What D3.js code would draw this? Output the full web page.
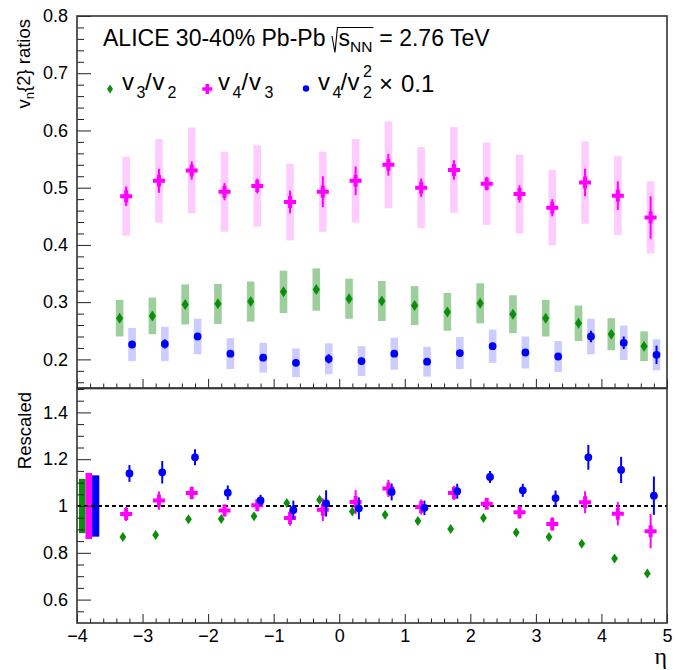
<!DOCTYPE html>
<html><head><meta charset="utf-8">
<script src="https://cdn.jsdelivr.net/npm/d3@7"></script>
<style>body{margin:0;background:#fff} text{font-family:"Liberation Sans",Arial,Helvetica,sans-serif;fill:#000}</style>
</head><body><svg id="c" width="678" height="670"></svg>
<script>
// ---- data ----
const eta = [-3.25,-2.75,-2.25,-1.75,-1.25,-0.75,-0.25,0.25,0.75,1.25,1.75,2.25,2.75,3.25,3.75,4.25,4.75];
// top panel: v3/v2
const v32     = [0.272,0.276,0.296,0.297,0.301,0.318,0.322,0.306,0.302,0.294,0.283,0.298,0.279,0.272,0.263,0.244,0.223];
const v32Stat = [0.003,0.003,0.003,0.003,0.003,0.003,0.003,0.003,0.003,0.003,0.003,0.003,0.003,0.003,0.003,0.003,0.004];
const v32Sys  = [0.032,0.032,0.035,0.035,0.035,0.037,0.037,0.035,0.035,0.034,0.033,0.035,0.033,0.032,0.031,0.028,0.026];
// top panel: v4/v3
const v43     = [0.485,0.512,0.530,0.493,0.503,0.475,0.493,0.512,0.540,0.500,0.531,0.507,0.489,0.465,0.509,0.486,0.448];
const v43Stat = [0.017,0.021,0.016,0.015,0.013,0.020,0.027,0.025,0.019,0.016,0.017,0.012,0.015,0.015,0.024,0.025,0.037];
const v43Sys  = [0.069,0.073,0.075,0.070,0.071,0.067,0.070,0.073,0.076,0.071,0.075,0.072,0.069,0.066,0.072,0.069,0.063];
// top panel: v4/v2^2 x 0.1
const v422     = [0.226,0.227,0.240,0.210,0.203,0.194,0.201,0.197,0.210,0.196,0.211,0.223,0.212,0.205,0.240,0.229,0.208];
const v422Stat = [0.005,0.008,0.006,0.005,0.005,0.006,0.008,0.006,0.005,0.005,0.005,0.006,0.005,0.006,0.010,0.011,0.016];
const v422Sys  = [0.029,0.030,0.031,0.027,0.026,0.025,0.027,0.026,0.028,0.026,0.028,0.029,0.028,0.027,0.031,0.030,0.027];
// bottom panel: rescaled
const r32      = [0.868,0.876,0.943,0.944,0.956,1.013,1.027,0.976,0.963,0.936,0.902,0.949,0.887,0.868,0.839,0.776,0.712];
const r32Stat  = [0.005,0.005,0.005,0.005,0.005,0.005,0.005,0.005,0.005,0.005,0.005,0.005,0.005,0.005,0.005,0.006,0.007];
const r43      = [0.966,1.023,1.056,0.981,1.003,0.949,0.984,1.017,1.075,0.996,1.056,1.010,0.973,0.923,1.016,0.967,0.892];
const r43Stat  = [0.030,0.039,0.027,0.025,0.025,0.033,0.048,0.051,0.037,0.032,0.030,0.023,0.027,0.029,0.047,0.050,0.073];
const r422     = [1.139,1.144,1.208,1.057,1.024,0.983,1.011,0.990,1.060,0.992,1.063,1.124,1.067,1.034,1.208,1.154,1.044];
const r422Stat = [0.036,0.048,0.034,0.031,0.024,0.040,0.056,0.047,0.036,0.031,0.032,0.026,0.028,0.032,0.053,0.056,0.082];
// global normalisation uncertainties (green, magenta, blue)
const globalUnc   = [0.116,0.141,0.131];
const globalEtaLo = [-3.97,-3.87,-3.77];
const globalEtaHi = [-3.87,-3.77,-3.66];
// ticks
const xTicks   = [-4,-3,-2,-1,0,1,2,3,4,5];
const yTopTicks = [0.2,0.3,0.4,0.5,0.6,0.7,0.8];
const yBotTicks = [0.6,0.8,1.0,1.2,1.4];

// ---- styles ----
const GREEN="#0b8f0b", MAG="#ff00ff", BLUE="#0000ff";
const GREEN_L="#9ccf9c", MAG_L="#ffccff", BLUE_L="#ccccff";

const svg = d3.select("#c");
const x  = d3.scaleLinear().domain([-4,5]).range([77,667]);
const yT = d3.scaleLinear().domain([0.15,0.8]).range([388,16]);
const yB = d3.scaleLinear().domain([0.5,1.5]).range([623,389]);

const FS = 18;
const boxHalf = 0.058;

function diamond(w,h){return `M0,${-h}L${w},0L0,${h}L${-w},0Z`;}
function cross(a,t){return `M${-t},${-a}H${t}V${-t}H${a}V${t}H${t}V${a}H${-t}V${t}H${-a}V${-t}H${-t}Z`;}

function drawSeries(g, y, vals, stat, sys, off, color, light, kind, small){
  const pts = vals.map((v,i)=>({e:eta[i]+off, v, s:stat[i], y:sys? sys[i]:0}));
  if(sys){
    g.append("g").selectAll("rect").data(pts).join("rect")
      .attr("x", d=>x(d.e-boxHalf)).attr("width", d=>x(d.e+boxHalf)-x(d.e-boxHalf))
      .attr("y", d=>y(d.v+d.y)).attr("height", d=>y(d.v-d.y)-y(d.v+d.y))
      .attr("fill", light);
  }
  return ()=>{
    g.append("g").selectAll("line").data(pts).join("line")
      .attr("x1", d=>x(d.e)).attr("x2", d=>x(d.e))
      .attr("y1", d=>y(d.v+d.s)).attr("y2", d=>y(d.v-d.s))
      .attr("stroke", color).attr("stroke-width", 2);
    const m = g.append("g").selectAll("path").data(pts).join("path")
      .attr("transform", d=>`translate(${x(d.e)},${y(d.v)})`).attr("fill", color);
    if(kind==="d") m.attr("d", small? diamond(3.4,5): diamond(3.6,5.5));
    else if(kind==="x") m.attr("d", cross(6,2));
    else m.attr("d", d3.arc()({innerRadius:0,outerRadius:3.9,startAngle:0,endAngle:2*Math.PI}));
  };
}

// ---- top panel ----
const gT = svg.append("g");
const f1 = drawSeries(gT, yT, v32, v32Stat, v32Sys, -0.1, GREEN, GREEN_L, "d");
const f2 = drawSeries(gT, yT, v43, v43Stat, v43Sys, 0, MAG, MAG_L, "x");
const f3 = drawSeries(gT, yT, v422, v422Stat, v422Sys, 0.09, BLUE, BLUE_L, "o");
f1(); f3(); f2();

// ---- bottom panel ----
const gB = svg.append("g");
gB.append("g").selectAll("rect").data(globalUnc).join("rect")
  .attr("x",(d,i)=>x(globalEtaLo[i])).attr("width",(d,i)=>x(globalEtaHi[i])-x(globalEtaLo[i]))
  .attr("y",d=>yB(1+d)).attr("height",d=>yB(1-d)-yB(1+d))
  .attr("fill",(d,i)=>[GREEN,MAG,BLUE][i]);
gB.append("line").attr("x1",x(-4)).attr("x2",x(5)).attr("y1",yB(1)).attr("y2",yB(1))
  .attr("stroke","#000").attr("stroke-width",1.8).attr("stroke-dasharray","4,3");
const b1 = drawSeries(gB, yB, r32, r32Stat, null, -0.05, GREEN, null, "d", true);
const b2 = drawSeries(gB, yB, r43, r43Stat, null, 0, MAG, null, "x");
const b3 = drawSeries(gB, yB, r422, r422Stat, null, 0.05, BLUE, null, "o");
b1(); b2(); b3();

// ---- axes ----
function styleAxis(g){
  g.select(".domain").remove();
  g.selectAll(".tick line").attr("stroke","#222").attr("stroke-width",1);
  g.selectAll(".tick text").attr("font-size",FS).attr("font-family","Liberation Sans, Arial, sans-serif").attr("fill","#000");
}
const minorX = d3.range(-4,5.001,0.2).map(v=>+v.toFixed(2)).filter(v=>!xTicks.includes(v));
svg.append("g").attr("transform","translate(0,388)")
  .call(d3.axisBottom(x).tickValues(xTicks).tickSize(-9).tickFormat("")).call(styleAxis);
svg.append("g").attr("transform","translate(0,388)")
  .call(d3.axisBottom(x).tickValues(minorX).tickSize(-4.5).tickFormat("")).call(styleAxis);
svg.append("g").attr("transform","translate(0,623)")
  .call(d3.axisBottom(x).tickValues(xTicks).tickSize(-9).tickPadding(6.3).tickFormat(d3.format("d"))).call(styleAxis);
svg.append("g").attr("transform","translate(0,623)")
  .call(d3.axisBottom(x).tickValues(minorX).tickSize(-4.5).tickFormat("")).call(styleAxis);
const minorYT = d3.range(0.16,0.8001,0.02).map(v=>+v.toFixed(2)).filter(v=>!yTopTicks.some(t=>Math.abs(t-v)<1e-6));
svg.append("g").attr("transform","translate(77,0)")
  .call(d3.axisLeft(yT).tickValues(yTopTicks).tickSize(-14).tickPadding(9).tickFormat(d3.format(".1f"))).call(styleAxis);
svg.append("g").attr("transform","translate(77,0)")
  .call(d3.axisLeft(yT).tickValues(minorYT).tickSize(-7).tickFormat("")).call(styleAxis);
const minorYB = d3.range(0.55,1.5001,0.05).map(v=>+v.toFixed(2)).filter(v=>!yBotTicks.some(t=>Math.abs(t-v)<1e-6));
svg.append("g").attr("transform","translate(77,0)")
  .call(d3.axisLeft(yB).tickValues(yBotTicks).tickSize(-14).tickPadding(9).tickFormat(d=>d===1?"1":d3.format(".1f")(d))).call(styleAxis);
svg.append("g").attr("transform","translate(77,0)")
  .call(d3.axisLeft(yB).tickValues(minorYB).tickSize(-7).tickFormat("")).call(styleAxis);

// frames
svg.append("rect").attr("x",77).attr("y",16).attr("width",590).attr("height",372)
  .attr("fill","none").attr("stroke","#333").attr("stroke-width",1.6);
svg.append("rect").attr("x",77).attr("y",388.5).attr("width",590).attr("height",234.5)
  .attr("fill","none").attr("stroke","#333").attr("stroke-width",1.6);

// axis titles
const t1 = svg.append("text").attr("transform","translate(30,19) rotate(-90)").attr("text-anchor","end").attr("font-size",18.5);
t1.append("tspan").text("v");
t1.append("tspan").attr("dy",4).attr("font-size",13).text("n");
t1.append("tspan").attr("dy",-4).text("{2} ratios");
svg.append("text").attr("transform","translate(31,392) rotate(-90)").attr("text-anchor","end").attr("font-size",18.5).text("Rescaled");
svg.append("text").attr("x",667).attr("y",664).attr("text-anchor","end").attr("font-size",24)
  .style("font-family","Liberation Serif, serif").text("η");

// title
const T = svg.append("g");
const TF = 23;
const tA = T.append("text").attr("x",103).attr("y",46).attr("font-size",TF).text("ALICE 30-40% Pb-Pb");
const e1 = 103 + tA.node().getComputedTextLength();
const sx = e1 + 13;
const tS = T.append("text").attr("x",sx).attr("y",46).attr("font-size",TF);
tS.append("tspan").text("s");
tS.append("tspan").attr("dy",6).attr("font-size",15.5).text("NN");
const e2 = sx + tS.node().getComputedTextLength();
T.append("path").attr("d",`M${e1+6.5},36 L${e1+9.5},52.5 L${e1+12},27.5 H${e2+1}`)
  .attr("fill","none").attr("stroke","#000").attr("stroke-width",1.1);
T.append("text").attr("x",e2+7).attr("y",46).attr("font-size",TF).text("= 2.76 TeV");

// legend
const L = svg.append("g");
L.append("path").attr("d",diamond(3,4.6)).attr("transform","translate(110,89)").attr("fill",GREEN);
L.append("path").attr("d",cross(5,1.8)).attr("transform","translate(207.3,89)").attr("fill",MAG);
L.append("circle").attr("cx",306).attr("cy",88.5).attr("r",3.2).attr("fill",BLUE);
const LF = 24, SF = 16, BY = 89.5, SUBY = 98.3, SUPY = 76.5;
function piece(t, xx, yy, fs){ L.append("text").attr("x",xx).attr("y",yy).attr("font-size",fs).text(t); }
// v3/v2
piece("v",122,BY,LF); piece("3",136.5,SUBY,SF); piece("/",145,BY,LF); piece("v",152.5,BY,LF); piece("2",167.5,SUBY,SF);
// v4/v3
piece("v",218,BY,LF); piece("4",232.5,SUBY,SF); piece("/",241.5,BY,LF); piece("v",249,BY,LF); piece("3",264.5,SUBY,SF);
// v4/v2^2 x 0.1
piece("v",318,BY,LF); piece("4",332.5,SUBY,SF); piece("/",340.5,BY,LF); piece("v",347.5,BY,LF);
piece("2",363,SUPY,SF); piece("2",363,SUBY,SF);
piece("×",379,91.5,LF); piece("0.1",401,91.5,LF);
</script></body></html>
